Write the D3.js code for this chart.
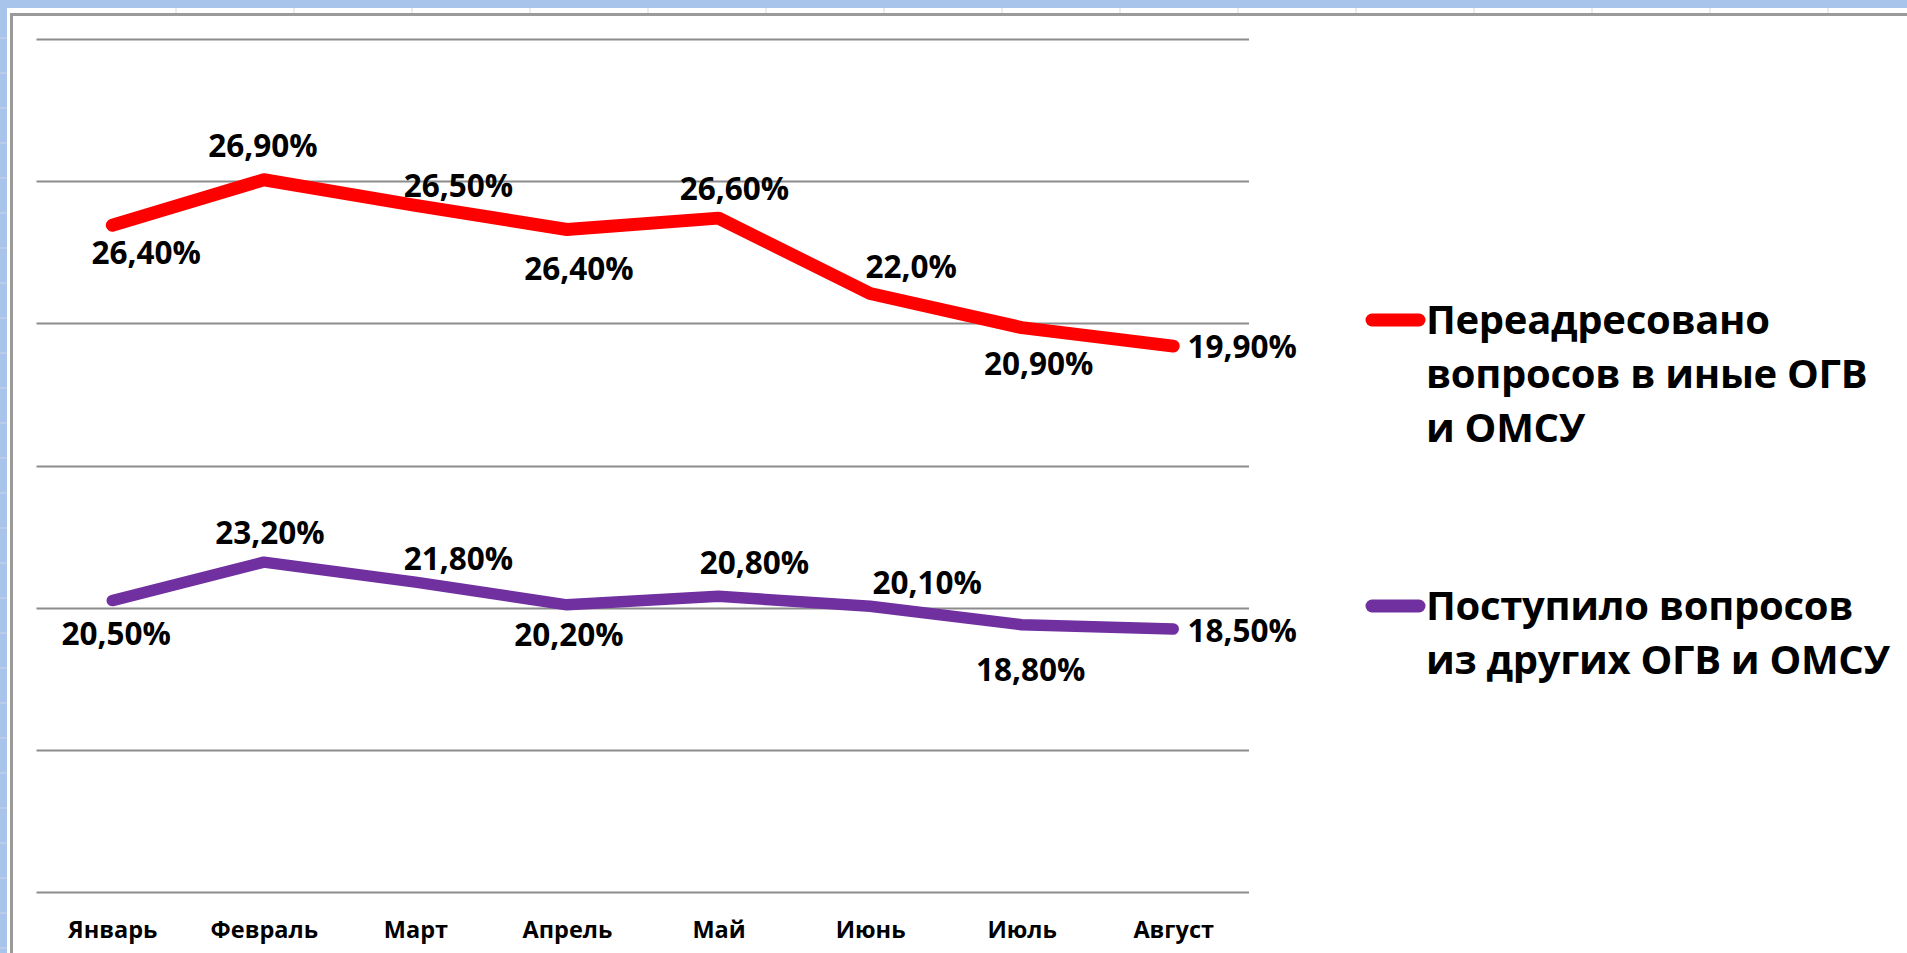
<!DOCTYPE html>
<html>
<head>
<meta charset="utf-8">
<script src="https://cdn.jsdelivr.net/npm/d3@7"></script>
<style>
  body { margin: 0; background: #fff; }
  svg { display: block; }
</style>
</head>
<body>
<div id="chart"></div>
<script>
var months = ["Январь", "Февраль", "Март", "Апрель", "Май", "Июнь", "Июль", "Август"];
var redValues = [26.4, 26.9, 26.5, 26.4, 26.6, 22.0, 20.9, 19.9];
var purpleValues = [20.5, 23.2, 21.8, 20.2, 20.8, 20.1, 18.8, 18.5];
var redLabels = ["26,40%", "26,90%", "26,50%", "26,40%", "26,60%", "22,0%", "20,90%", "19,90%"];
var purpleLabels = ["20,50%", "23,20%", "21,80%", "20,20%", "20,80%", "20,10%", "18,80%", "18,50%"];
var redName = ["Переадресовано", "вопросов в иные ОГВ", "и ОМСУ"];
var purpleName = ["Поступило вопросов", "из других ОГВ и ОМСУ"];
var yTicks = [0, 10, 20, 30, 40, 50, 60];

var svgWidth = 1907;
var svgHeight = 953;

var svg = d3.select("#chart")
  .append("svg")
  .attr("width", svgWidth)
  .attr("height", svgHeight);

// excel sheet around the chart
svg.append("rect").attr("x", 0).attr("y", 0).attr("width", svgWidth).attr("height", 8).attr("fill", "#a9c4eb");
svg.append("rect").attr("x", 0).attr("y", 0).attr("width", 7).attr("height", svgHeight).attr("fill", "#a9c4eb");
d3.range(176, svgWidth, 118).forEach(function (cx) {
  svg.append("line").attr("x1", cx).attr("x2", cx).attr("y1", 8).attr("y2", 13)
    .attr("stroke", "#d8d8d8").attr("stroke-width", 1);
});
d3.range(38, svgHeight, 35).forEach(function (cy) {
  svg.append("line").attr("x1", 0).attr("x2", 7).attr("y1", cy).attr("y2", cy)
    .attr("stroke", "#c9d6ea").attr("stroke-width", 1);
});
svg.append("path")
  .attr("d", `M11.5,${svgHeight} V14.5 H${svgWidth}`)
  .attr("fill", "none").attr("stroke", "#9a9a9a").attr("stroke-width", 3);

var font = "'Open Sans', 'Noto Sans', sans-serif";

var xScale = d3.scalePoint().domain(months).range([36.5, 1249]).padding(0.5);
var yScale = d3.scaleLinear().domain([0, 60]).range([892, 39]);

// gridlines
svg.append("g").selectAll("line")
  .data(yTicks)
  .enter()
  .append("line")
  .attr("x1", 36.5)
  .attr("x2", 1249)
  .attr("y1", d => Math.round(yScale(d)) + 0.5)
  .attr("y2", d => Math.round(yScale(d)) + 0.5)
  .attr("stroke", "#8c8c8c")
  .attr("stroke-width", 2);

// x axis labels
var xaxis = d3.axisBottom(xScale).tickSize(0).tickPadding(0);
var xg = svg.append("g")
  .attr("transform", "translate(0, 892)")
  .call(xaxis);
xg.select(".domain").remove();
xg.selectAll("text")
  .attr("y", 46)
  .attr("dy", 0)
  .style("font-family", font)
  .style("font-weight", "bold")
  .style("font-size", "23.5px")
  .style("fill", "#000");

// stacked line chart: purple at the bottom, red on top of it
var rows = months.map(function (m, i) {
  return { month: m, purple: purpleValues[i], red: redValues[i] };
});
var stacked = d3.stack().keys(["purple", "red"])(rows);

var line = d3.line()
  .x(d => xScale(d.data.month))
  .y(d => yScale(d[1]));

var colors = { purple: "#7030a0", red: "#ff0000" };

svg.selectAll(".series")
  .data(stacked)
  .enter()
  .append("path")
  .attr("class", "series")
  .attr("d", d => line(d))
  .attr("fill", "none")
  .attr("stroke", d => colors[d.key])
  .attr("stroke-width", d => d.key == "red" ? 13 : 11.5)
  .attr("stroke-linejoin", "round")
  .attr("stroke-linecap", "round");

// data labels (offset from the point, in px)
var redOffsets = [[34, 28], [-1, -34], [43, -19], [12, 39], [16, -29], [41, -27], [17, 36], [69, 1]];
var purpleOffsets = [[4, 33], [6, -29], [43, -23], [2, 30], [36, -33], [57, -23], [9, 45], [69, 2]];

function addLabels(layer, labels, offsets) {
  svg.append("g").selectAll("text")
    .data(layer)
    .enter()
    .append("text")
    .attr("x", (d, i) => xScale(d.data.month) + offsets[i][0])
    .attr("y", (d, i) => yScale(d[1]) + offsets[i][1])
    .attr("dy", "0.35em")
    .attr("text-anchor", "middle")
    .style("font-family", font)
    .style("font-weight", "bold")
    .style("font-size", "31.5px")
    .style("fill", "#000")
    .text((d, i) => labels[i]);
}
addLabels(stacked[1], redLabels, redOffsets);
addLabels(stacked[0], purpleLabels, purpleOffsets);

// legend
function addLegend(y0, color, lines) {
  var g = svg.append("g");
  g.append("line")
    .attr("x1", 1372).attr("x2", 1419)
    .attr("y1", y0).attr("y2", y0)
    .attr("stroke", color)
    .attr("stroke-width", 13)
    .attr("stroke-linecap", "round");
  g.selectAll("text")
    .data(lines)
    .enter()
    .append("text")
    .attr("x", 1426)
    .attr("y", (d, i) => y0 + i * 54)
    .attr("dy", "0.35em")
    .style("font-family", font)
    .style("font-weight", "bold")
    .style("font-size", "40px")
    .style("letter-spacing", "-0.3px")
    .style("fill", "#000")
    .text(d => d);
}
addLegend(320, colors.red, redName);
addLegend(606, colors.purple, purpleName);
</script>
</body>
</html>
